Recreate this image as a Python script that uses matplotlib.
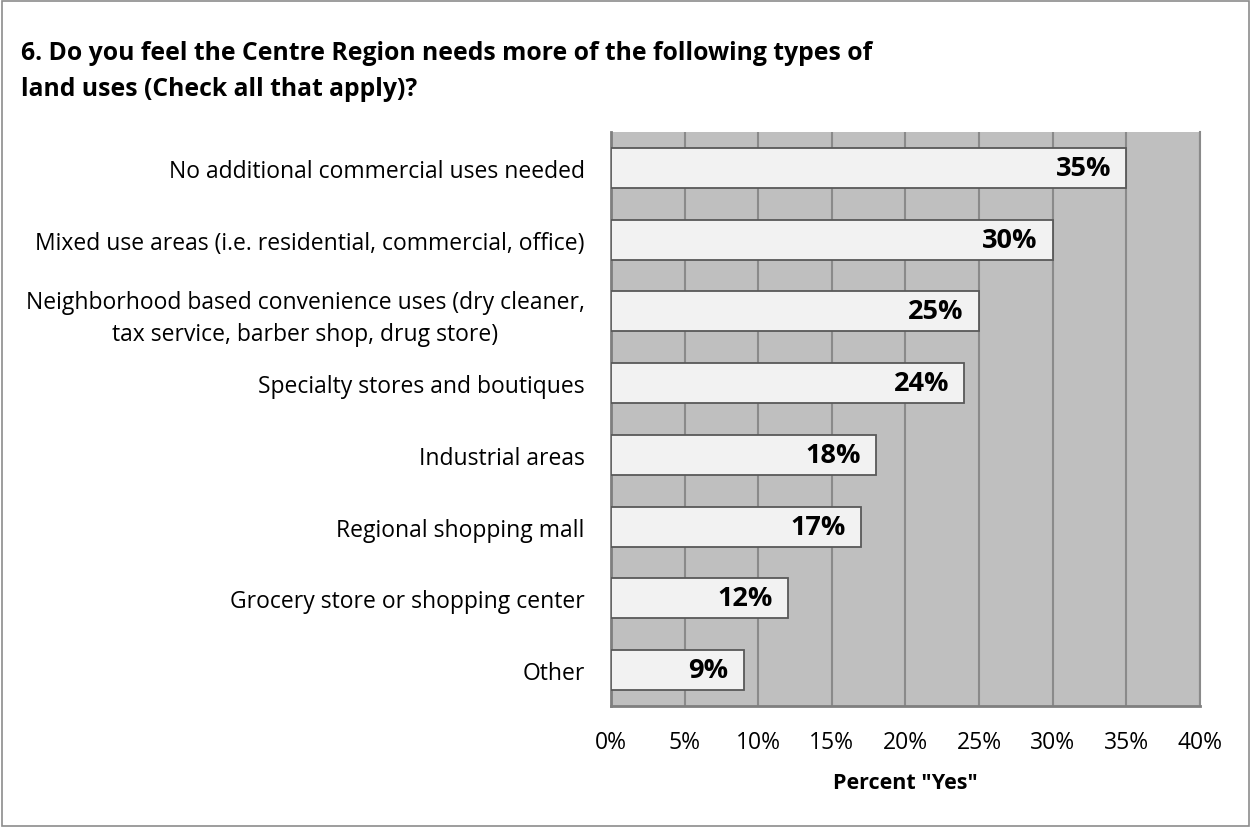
import matplotlib
matplotlib.use("Agg")
import matplotlib.pyplot as plt
from matplotlib.patches import Rectangle
from matplotlib.ticker import MultipleLocator, PercentFormatter

plt.rcParams['font.family'] = ['Open Sans', 'DejaVu Sans']

categories = [
    "No additional commercial uses needed",
    "Mixed use areas (i.e. residential, commercial, office)",
    "Neighborhood based convenience uses (dry cleaner,\ntax service, barber shop, drug store)",
    "Specialty stores and boutiques",
    "Industrial areas",
    "Regional shopping mall",
    "Grocery store or shopping center",
    "Other",
]
values = [35, 30, 25, 24, 18, 17, 12, 9]

fig = plt.figure(figsize=(12.51, 8.29), dpi=100)
ax = fig.add_axes([0.4884, 0.1472, 0.4708, 0.6924])

# outer frame of the chart
fig.patches.append(Rectangle((0.0015, 0.002), 0.997, 0.996, transform=fig.transFigure,
                             fill=False, edgecolor='#8c8c8c', linewidth=1.2))

ax.set_facecolor('#bfbfbf')
ypos = list(range(len(categories)))
ax.barh(ypos, values, height=0.56, color='#f2f2f2', edgecolor='#595959',
        linewidth=1.3, zorder=3)
ax.set_ylim(len(categories) - 0.5, -0.5)
ax.set_xlim(0, 40)

ax.xaxis.set_major_locator(MultipleLocator(5))
ax.xaxis.set_major_formatter(PercentFormatter(decimals=0))
ax.grid(axis='x', color='#8a8a8a', linewidth=1.5, zorder=1)
ax.set_yticks(ypos)
ax.set_yticklabels(categories, fontsize=16.5, multialignment='center')
for t in ax.get_yticklabels():
    t.set_linespacing(1.45)
ax.tick_params(axis='y', length=0, pad=19)
ax.tick_params(axis='x', length=0, pad=17, labelsize=16.5)

for side in ['top', 'left', 'bottom', 'right']:
    ax.spines[side].set_visible(side != 'top')
for side in ['left', 'bottom']:
    ax.spines[side].set_color('#7f7f7f')
    ax.spines[side].set_linewidth(2)
ax.spines['right'].set_color('#8a8a8a')
ax.spines['right'].set_linewidth(1.5)

for y, v in zip(ypos, values):
    ax.annotate(f"{v}%", xy=(v, y), xytext=(-11, 0), textcoords='offset points',
                ha='right', va='center', fontsize=19.5, fontweight='bold', zorder=4)

ax.set_xlabel('Percent "Yes"', fontsize=15.5, fontweight='bold', labelpad=13)

fig.text(0.0168, 0.951, "6. Do you feel the Centre Region needs more of the following types of\n"
         "land uses (Check all that apply)?", fontsize=17.8, fontweight='bold',
         ha='left', va='top', linespacing=1.62)

fig.savefig('out.png', dpi=100)
